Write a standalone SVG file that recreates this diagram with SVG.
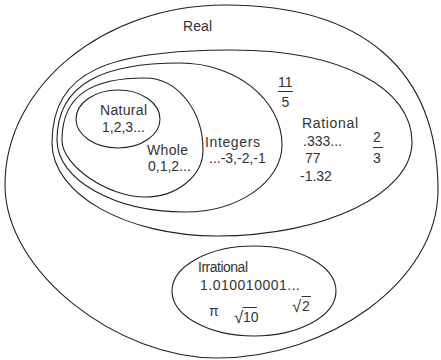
<svg xmlns="http://www.w3.org/2000/svg" width="441" height="360" viewBox="0 0 441 360">
<style>
.set{fill:none;stroke:#222;stroke-width:1.1}
.t{font-family:"Liberation Sans",Arial,sans-serif;font-size:14px;fill:#333}
.rad{font-family:"Liberation Sans",Arial,sans-serif;font-size:17px;fill:#333}
.bar{stroke:#333;stroke-width:1}
</style>
<rect width="441" height="360" fill="#fff"/>
<g id="real">
<path class="set" d="M5,185 C5,86 104,5 225,5 C363,5 438,70 438,190 C438,282 327,358 217,358 C117,358 5,272 5,185 Z"/>
<text class="t" x="183" y="31" font-size="13" textLength="29">Real</text>
</g>
<g id="rational">
<path class="set" d="M52,143 C52,70 110,50 232,50 C341,50 412,88 412,142 C412,194 324,236 217,236 C126,236 52,194 52,143 Z"/>
<text class="t" x="278" y="87" font-size="15">11</text>
<line class="bar" x1="278" y1="91.5" x2="293" y2="91.5"/>
<text class="t" x="281.5" y="107" font-size="15">5</text>
<text class="t" x="302" y="128" textLength="56">Rational</text>
<text class="t" x="303" y="146">.333...</text>
<text class="t" x="305" y="163">77</text>
<text class="t" x="300" y="181">-1.32</text>
<text class="t" x="373" y="142" font-size="13">2</text>
<line class="bar" x1="373" y1="147.5" x2="383" y2="147.5"/>
<text class="t" x="373" y="163" font-size="13">3</text>
</g>
<g id="integers">
<path class="set" d="M57,140 C57,82 106,63 180,63 C236,63 282,100 282,145 C282,182 238,212 185,212 C115,212 57,180 57,140 Z"/>
<text class="t" x="205" y="147" textLength="55">Integers</text>
<text class="t" x="209" y="163">...-3,-2,-1</text>
</g>
<g id="whole">
<path class="set" d="M62,140 C62,93 95,78 145,78 C177,78 203,110 203,150 C203,176 177,197 145,197 C108,197 62,166 62,140 Z"/>
<text class="t" x="147" y="155" textLength="41">Whole</text>
<text class="t" x="148" y="171">0,1,2...</text>
</g>
<g id="natural">
<ellipse class="set" cx="118" cy="119" rx="42" ry="29"/>
<text class="t" x="100" y="115" textLength="47">Natural</text>
<text class="t" x="102" y="132">1,2,3...</text>
</g>
<g id="irrational">
<ellipse class="set" cx="254" cy="291" rx="82" ry="45"/>
<text class="t" x="198" y="272" font-size="13" textLength="50">Irrational</text>
<text class="t" x="200" y="290" textLength="100">1.010010001...</text>
<text class="t" x="209" y="316" font-size="10">π</text>
<text class="rad" x="234" y="323">√</text>
<text class="t" x="243" y="322">10</text>
<line class="bar" x1="242.5" y1="307.5" x2="257" y2="307.5"/>
<text class="rad" x="292" y="312">√</text>
<text class="t" x="302" y="311">2</text>
<line class="bar" x1="301.5" y1="296.5" x2="311" y2="296.5"/>
</g>
</svg>
